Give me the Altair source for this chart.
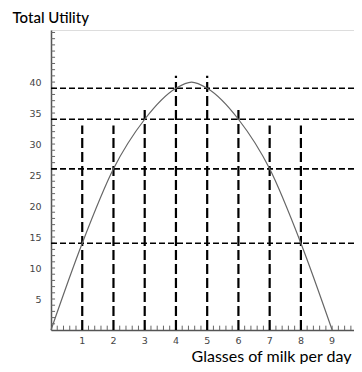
import altair as alt
import pandas as pd

# Total utility curve
glasses = [0, 1, 2, 3, 4, 4.5, 5, 6, 7, 8, 9]
utility = [0, 14, 26, 34, 39, 40, 39, 34, 26, 14, 0]

# dashed guide lines
h_levels = [14, 26, 34, 39]
v_pos = [1, 2, 3, 4, 5, 6, 7, 8]
v_top = [33, 33, 36, 41, 41, 36, 33, 33]

x_labels = [1, 2, 3, 4, 5, 6, 7, 8, 9]
y_labels = [5, 10, 15, 20, 25, 30, 35, 40]
y_minor = list(range(1, 49))
x_minor = [round(0.2 * i, 1) for i in range(1, 49)]

XMAX = 9.7
YMAX = 48.4

xs = alt.Scale(domain=[0, XMAX], nice=False, zero=False)
ys = alt.Scale(domain=[0, YMAX], nice=False, zero=False)

curve_df = pd.DataFrame({"g": glasses, "u": utility})
h_df = pd.DataFrame({"y": h_levels, "x0": [0] * len(h_levels), "x1": [XMAX] * len(h_levels)})
v_df = pd.DataFrame({"x": v_pos, "y0": [0] * len(v_pos), "y1": v_top})
ym_df = pd.DataFrame({"y": y_minor, "x0": [0] * len(y_minor), "x1": [0.13] * len(y_minor)})
xm_df = pd.DataFrame({"x": x_minor, "y0": [0] * len(x_minor), "y1": [0.7] * len(x_minor)})
xl_df = pd.DataFrame({"x": x_labels, "y": [0] * len(x_labels), "t": [str(v) for v in x_labels]})

FONT = "Lato"

x_axis = alt.Axis(
    values=x_labels, labels=False, title="Glasses of milk per day", grid=False, ticks=False,
    domainColor="#555", domainWidth=1.5, titleFont=FONT, titleFontSize=16,
    titleFontWeight="normal", titleColor="#000", titleAnchor="end",
    titleAlign="right", titleX=300, titleY=31, titleBaseline="alphabetic",
)
y_axis = alt.Axis(
    values=y_labels, title="Total Utility", grid=False, ticks=False,
    domainColor="#555", domainWidth=1.5, labelFont="DejaVu Sans", labelFontSize=9.5,
    labelColor="#444", labelPadding=10, labelOverlap=False, titleFont=FONT, titleFontSize=15,
    titleFontWeight=500, titleColor="#000", titleAngle=0,
    titleAlign="left", titleX=-39, titleY=-8, titleBaseline="alphabetic",
)

base_axes = alt.Chart(curve_df).mark_line(opacity=0).encode(
    x=alt.X("g:Q", scale=xs, axis=x_axis),
    y=alt.Y("u:Q", scale=ys, axis=y_axis),
)

hlines = alt.Chart(h_df).mark_rule(color="black", strokeWidth=1.6, strokeDash=[6, 3]).encode(
    x=alt.X("x0:Q", scale=xs), x2="x1:Q", y=alt.Y("y:Q", scale=ys)
)
vlines = alt.Chart(v_df).mark_rule(color="black", strokeWidth=2.2, strokeDash=[10, 4]).encode(
    x=alt.X("x:Q", scale=xs), y=alt.Y("y0:Q", scale=ys), y2="y1:Q"
)
ymin = alt.Chart(ym_df).mark_rule(color="#666", strokeWidth=1).encode(
    x=alt.X("x0:Q", scale=xs), x2="x1:Q", y=alt.Y("y:Q", scale=ys)
)
xmin = alt.Chart(xm_df).mark_rule(color="#666", strokeWidth=1).encode(
    x=alt.X("x:Q", scale=xs), y=alt.Y("y0:Q", scale=ys), y2="y1:Q"
)
curve = alt.Chart(curve_df).mark_line(color="#666", strokeWidth=1.2, interpolate="monotone").encode(
    x=alt.X("g:Q", scale=xs), y=alt.Y("u:Q", scale=ys)
)
xlabels = alt.Chart(xl_df).mark_text(
    font="DejaVu Sans", fontSize=9.5, color="#444", baseline="top", align="center", dy=6
).encode(
    x=alt.X("x:Q", scale=xs), y=alt.Y("y:Q", scale=ys), text="t:N"
)

chart = alt.layer(base_axes, ymin, xmin, hlines, vlines, curve, xlabels).properties(
    width=303, height=300,
    autosize=alt.AutoSizeParams(type="none"),
    padding={"left": 43, "top": 22, "right": 0, "bottom": 34},
).configure_view(stroke=None, clip=False).configure(background="white")

chart.save("out.html", embed_options={"renderer": "svg", "actions": False})
